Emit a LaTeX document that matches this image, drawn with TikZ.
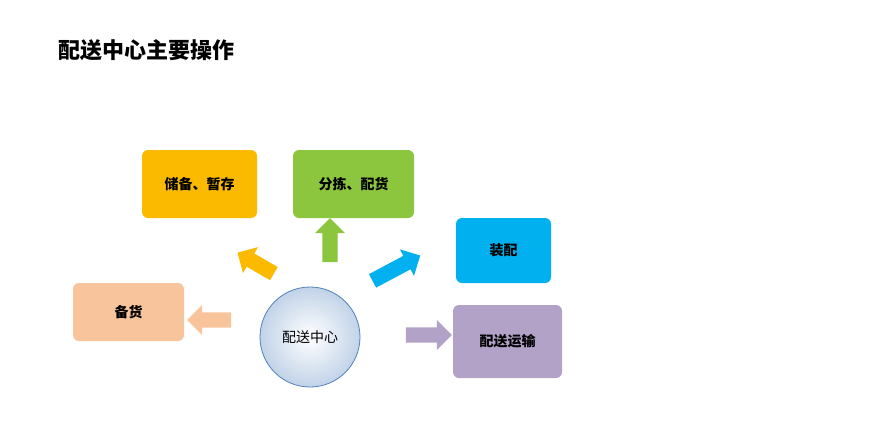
\documentclass[tikz,border=0pt]{standalone}
\usepackage{fontspec}
\setmainfont{Noto Sans CJK SC}
\usetikzlibrary{shapes.arrows,shadows}
\definecolor{cOr}{HTML}{FBB900}
\definecolor{cGr}{HTML}{8CC63E}
\definecolor{cCy}{HTML}{00B0EF}
\definecolor{cPe}{HTML}{F8C49C}
\definecolor{cPu}{HTML}{B3A2C7}
\definecolor{cCi}{HTML}{4F81BD}
\tikzset{
 box/.style={rounded corners=6pt,minimum width=#1,font=\fontsize{14}{16}\selectfont\bfseries},
 barrow/.style={single arrow,draw=none,fill=#1,minimum height=44pt,minimum width=30pt,single arrow head extend=6pt,inner sep=6pt}
}
\begin{document}
\begin{tikzpicture}[x=1pt,y=-1pt]
\useasboundingbox (0,0) rectangle (869,440);
\node[font=\fontsize{22}{26}\selectfont\bfseries,anchor=west] (title) at (55,50) {配送中心主要操作};
\node[box=115pt,minimum height=68pt,fill=cOr] (store) at (199.5,184) {储备、暂存};
\node[box=121pt,minimum height=68pt,fill=cGr] (sort) at (353.5,184) {分拣、配货};
\node[box=95pt,minimum height=65pt,fill=cCy] (asm) at (503.5,250.5) {装配};
\node[box=111pt,minimum height=58pt,fill=cPe] (prep) at (128.5,312) {备货};
\node[box=109pt,minimum height=73pt,fill=cPu] (trans) at (507.5,341.5) {配送运输};
\node[circle,minimum size=100pt,draw=cCi,line width=0.8pt,inner color=white,outer color=cCi!35,font=\fontsize{14}{16}\selectfont] (ctr) at (310,337) {配送中心};
\node[barrow=cOr,rotate=150,minimum height=42pt] (a1) at (259,265) {};
\node[barrow=cGr,rotate=90] (a2) at (330,244) {};
\node[barrow=cCy,rotate=28,minimum height=54pt] (a3) at (393,270) {};
\node[barrow=cPe,rotate=180] (a4) at (213,320) {};
\node[barrow=cPu,minimum height=46pt] (a5) at (425,335) {};
\end{tikzpicture}
\end{document}
